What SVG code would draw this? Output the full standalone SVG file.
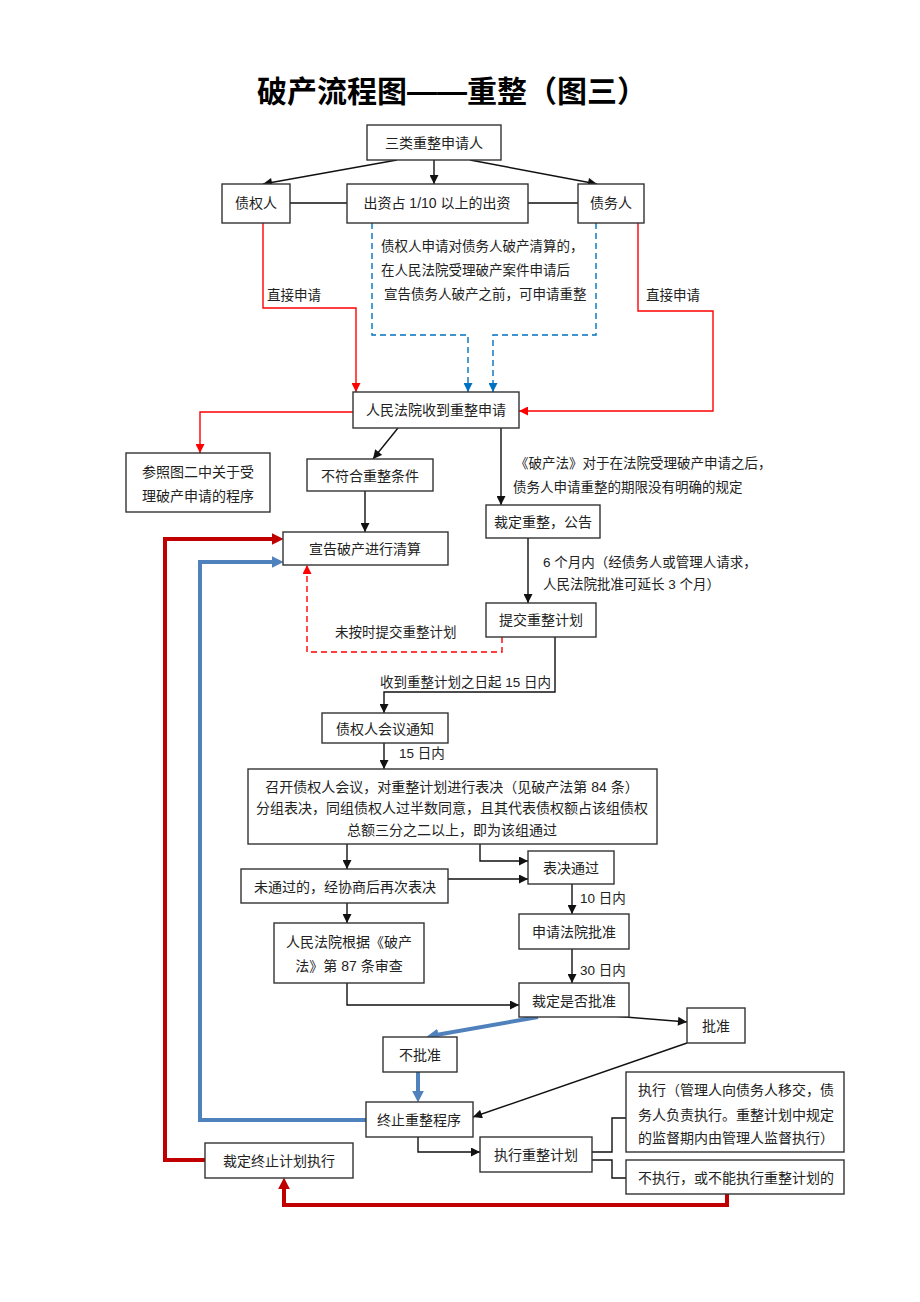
<svg xmlns="http://www.w3.org/2000/svg" width="920" height="1302" viewBox="0 0 920 1302">
<style>
.bx{fill:#fff;stroke:#333;stroke-width:1.4}
.t{font-family:"Liberation Sans","Noto Sans CJK SC",sans-serif;font-size:14px;fill:#222;dominant-baseline:central}
.c{text-anchor:middle}
.s{font-size:13.5px}
.k{fill:none;stroke:#111;stroke-width:1.4}
.r{fill:none;stroke:#FF0000;stroke-width:1.4}
.rd{fill:none;stroke:#FF0000;stroke-width:1.4;stroke-dasharray:6,4}
.bd{fill:none;stroke:#0070C0;stroke-width:1.4;stroke-dasharray:6,4}
.R{fill:none;stroke:#C00000;stroke-width:4}
.B{fill:none;stroke:#4F81BD;stroke-width:4}
</style>
<defs>
<marker id="ak" markerUnits="userSpaceOnUse" viewBox="0 0 10 10" markerWidth="10" markerHeight="9" refX="10" refY="5" orient="auto"><path d="M0,0 L10,5 L0,10 z" fill="#111"/></marker>
<marker id="ar" markerUnits="userSpaceOnUse" viewBox="0 0 10 10" markerWidth="10" markerHeight="9" refX="10" refY="5" orient="auto"><path d="M0,0 L10,5 L0,10 z" fill="#FF0000"/></marker>
<marker id="ab" markerUnits="userSpaceOnUse" viewBox="0 0 10 10" markerWidth="10" markerHeight="9" refX="10" refY="5" orient="auto"><path d="M0,0 L10,5 L0,10 z" fill="#0070C0"/></marker>
<marker id="aR" markerUnits="userSpaceOnUse" viewBox="0 0 10 10" markerWidth="12" markerHeight="13" refX="2" refY="5" orient="auto"><path d="M0,0 L10,5 L0,10 z" fill="#C00000"/></marker>
<marker id="aB" markerUnits="userSpaceOnUse" viewBox="0 0 10 10" markerWidth="12" markerHeight="13" refX="2" refY="5" orient="auto"><path d="M0,0 L10,5 L0,10 z" fill="#4F81BD"/></marker>
</defs>
<rect width="920" height="1302" fill="#fff"/>
<text x="452" y="91" class="t c" style="font-size:30px;font-weight:bold;fill:#000">破产流程图——重整（图三）</text>

<g id="connectors">
<path class="k" d="M397,160 L263,184" marker-end="url(#ak)"/>
<path class="k" d="M434,160 L434,184" marker-end="url(#ak)"/>
<path class="k" d="M470,160 L597,184" marker-end="url(#ak)"/>
<path class="k" d="M290,203 H347 M528,203 H578"/>
<path class="r" d="M263,223 V308 H356 V392" marker-end="url(#ar)"/>
<path class="r" d="M638,223 V311 H713 V411 H519" marker-end="url(#ar)"/>
<path class="bd" d="M372,223 V335 H468 V392" marker-end="url(#ab)"/>
<path class="bd" d="M596,223 V335 H493 V392" marker-end="url(#ab)"/>
<path class="r" d="M353,412 H200 V453" marker-end="url(#ar)"/>
<path class="k" d="M398,428 L373,459" marker-end="url(#ak)"/>
<path class="k" d="M365,491 V532" marker-end="url(#ak)"/>
<path class="k" d="M501,428 V505" marker-end="url(#ak)"/>
<path class="k" d="M528,538 V603" marker-end="url(#ak)"/>
<path class="rd" d="M502,637 V652 H307 V565" marker-end="url(#ar)"/>
<path class="k" d="M555,637 V692 H384 V713" marker-end="url(#ak)"/>
<path class="k" d="M384,743 V769" marker-end="url(#ak)"/>
<path class="k" d="M347,844 V869" marker-end="url(#ak)"/>
<path class="k" d="M480,844 V861 H528" marker-end="url(#ak)"/>
<path class="k" d="M448,879 H528" marker-end="url(#ak)"/>
<path class="k" d="M347,903 V923" marker-end="url(#ak)"/>
<path class="k" d="M347,983 V1005 H519" marker-end="url(#ak)"/>
<path class="k" d="M572,884 V914" marker-end="url(#ak)"/>
<path class="k" d="M572,949 V983" marker-end="url(#ak)"/>
<path class="k" d="M613,1016 L687,1022" marker-end="url(#ak)"/>
<path class="k" d="M687,1043 L473,1117" marker-end="url(#ak)"/>
<path class="k" d="M418,1137 V1152 H480" marker-end="url(#ak)"/>
<path class="k" d="M592,1152 H612 V1118 H626 M592,1160 H612 V1178 H626"/>
<path class="B" d="M538,1017 L436,1035" marker-end="url(#aB)"/>
<path class="B" d="M418,1072 V1093" marker-end="url(#aB)"/>
<path class="B" d="M366,1120 H200 V562 H274" marker-end="url(#aB)"/>
<path class="R" d="M727,1194 V1205 H284 V1187" marker-end="url(#aR)"/>
<path class="R" d="M205,1160 H165 V539 H274" marker-end="url(#aR)"/>
</g>

<g id="labels">
<text x="267" y="295" class="t s">直接申请</text>
<text x="646" y="295" class="t s">直接申请</text>
<text x="381" y="246" class="t s">债权人申请对债务人破产清算的，</text>
<text x="381" y="270" class="t s">在人民法院受理破产案件申请后</text>
<text x="384" y="294" class="t s">宣告债务人破产之前，可申请重整</text>
<text x="515" y="463" class="t s">《破产法》对于在法院受理破产申请之后，</text>
<text x="513" y="487" class="t s">债务人申请重整的期限没有明确的规定</text>
<text x="543" y="562" class="t s">6 个月内（经债务人或管理人请求，</text>
<text x="543" y="584" class="t s">人民法院批准可延长 3 个月）</text>
<text x="335" y="632" class="t s">未按时提交重整计划</text>
<text x="380" y="682" class="t s">收到重整计划之日起 15 日内</text>
<text x="399" y="753" class="t s">15 日内</text>
<text x="580" y="898" class="t s">10 日内</text>
<text x="580" y="970" class="t s">30 日内</text>
</g>

<g id="n1"><rect class="bx" x="367" y="125" width="134" height="35"/><text x="434" y="143" class="t c">三类重整申请人</text></g>
<g id="n2"><rect class="bx" x="222" y="184" width="68" height="39"/><text x="256" y="203" class="t c">债权人</text></g>
<g id="n3"><rect class="bx" x="347" y="184" width="181" height="39"/><text x="437" y="203" class="t c">出资占 1/10 以上的出资</text></g>
<g id="n4"><rect class="bx" x="578" y="184" width="66" height="39"/><text x="611" y="203" class="t c">债务人</text></g>
<g id="n5"><rect class="bx" x="353" y="392" width="166" height="36"/><text x="436" y="410" class="t c">人民法院收到重整申请</text></g>
<g id="n6"><rect class="bx" x="126" y="453" width="144" height="59"/><text x="198" y="472" class="t c">参照图二中关于受</text><text x="198" y="496" class="t c">理破产申请的程序</text></g>
<g id="n7"><rect class="bx" x="307" y="459" width="126" height="32"/><text x="370" y="476" class="t c">不符合重整条件</text></g>
<g id="n8"><rect class="bx" x="283" y="532" width="165" height="33"/><text x="365" y="549" class="t c">宣告破产进行清算</text></g>
<g id="n9"><rect class="bx" x="486" y="505" width="114" height="33"/><text x="543" y="522" class="t c">裁定重整，公告</text></g>
<g id="n10"><rect class="bx" x="486" y="603" width="110" height="34"/><text x="541" y="620" class="t c">提交重整计划</text></g>
<g id="n11"><rect class="bx" x="322" y="713" width="126" height="30"/><text x="385" y="729" class="t c">债权人会议通知</text></g>
<g id="n12"><rect class="bx" x="248" y="769" width="409" height="75"/><text x="452" y="787" class="t c">召开债权人会议，对重整计划进行表决（见破产法第 84 条）</text><text x="452" y="808" class="t c">分组表决，同组债权人过半数同意，且其代表债权额占该组债权</text><text x="452" y="830" class="t c">总额三分之二以上，即为该组通过</text></g>
<g id="n13"><rect class="bx" x="528" y="851" width="86" height="33"/><text x="571" y="868" class="t c">表决通过</text></g>
<g id="n14"><rect class="bx" x="241" y="869" width="207" height="34"/><text x="345" y="887" class="t c">未通过的，经协商后再次表决</text></g>
<g id="n15"><rect class="bx" x="274" y="923" width="150" height="60"/><text x="349" y="942" class="t c">人民法院根据《破产</text><text x="349" y="966" class="t c">法》第 87 条审查</text></g>
<g id="n16"><rect class="bx" x="519" y="914" width="110" height="35"/><text x="574" y="932" class="t c">申请法院批准</text></g>
<g id="n17"><rect class="bx" x="519" y="983" width="110" height="34"/><text x="574" y="1001" class="t c">裁定是否批准</text></g>
<g id="n18"><rect class="bx" x="687" y="1008" width="58" height="35"/><text x="716" y="1026" class="t c">批准</text></g>
<g id="n19"><rect class="bx" x="383" y="1037" width="74" height="35"/><text x="420" y="1055" class="t c">不批准</text></g>
<g id="n20"><rect class="bx" x="366" y="1102" width="107" height="35"/><text x="419" y="1120" class="t c">终止重整程序</text></g>
<g id="n21"><rect class="bx" x="480" y="1137" width="112" height="35"/><text x="536" y="1155" class="t c">执行重整计划</text></g>
<g id="n22"><rect class="bx" x="626" y="1072" width="218" height="80"/><text x="638" y="1090" class="t">执行（管理人向债务人移交，债</text><text x="638" y="1115" class="t">务人负责执行。重整计划中规定</text><text x="638" y="1138" class="t">的监督期内由管理人监督执行）</text></g>
<g id="n23"><rect class="bx" x="626" y="1160" width="218" height="34"/><text x="638" y="1178" class="t">不执行，或不能执行重整计划的</text></g>
<g id="n24"><rect class="bx" x="205" y="1143" width="148" height="35"/><text x="279" y="1161" class="t c">裁定终止计划执行</text></g>
</svg>
